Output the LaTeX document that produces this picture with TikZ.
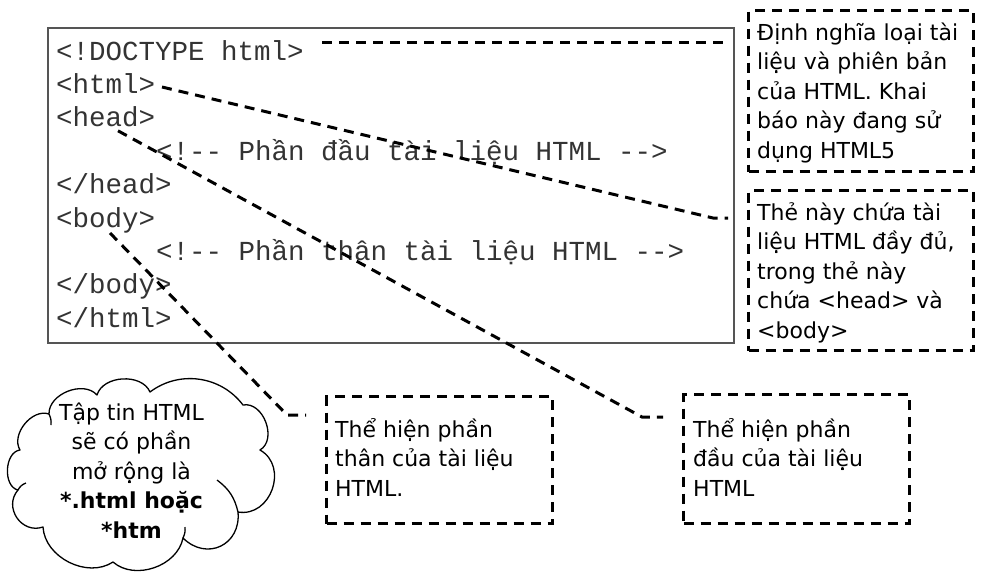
\documentclass[tikz,border=0pt]{standalone}
\usepackage{fontspec}
\setmainfont{DejaVu Sans}
\newfontfamily\codefont{Liberation Mono}[Ligatures=TeXOff]
\usetikzlibrary{calc}
\definecolor{codegray}{HTML}{333333}
\definecolor{framegray}{HTML}{555555}
\newcommand{\calltext}[1]{\begin{tabular}[t]{@{}l@{}}#1\end{tabular}}
\newcommand{\ctrtext}[1]{\begin{tabular}[t]{@{}c@{}}#1\end{tabular}}
\begin{document}
\begin{tikzpicture}[x=1pt,y=-1pt,
  codeline/.style={anchor=base west, inner sep=0pt, text=codegray, font=\codefont\fontsize{27.5}{33}\selectfont},
  codebox/.style={draw=framegray, line width=1.5pt, anchor=north west, inner sep=0pt},
  callbox/.style={draw=black, line width=3pt, dash pattern=on 10pt off 7pt, anchor=north west, inner sep=0pt},
  calltxt/.style={anchor=base west, inner sep=0pt, font=\fontsize{22}{29.5}\selectfont},
  conn/.style={draw=black, line width=3pt, dash pattern=on 10pt off 7pt},
  cloudline/.style={draw=black, line width=1.3pt, line join=round}
]
\useasboundingbox (0,0) rectangle (984,579);
\fill[white] (0,0) rectangle (984,579);

% code box
\node[codebox, minimum width=686pt, minimum height=315pt] (code) at (47,27) {};
\node[codeline] (l1) at (56,60) {<!DOCTYPE html>};
\node[codeline] (l2) at (56,93.4) {<html>};
\node[codeline] (l3) at (56,126.8) {<head>};
\node[codeline] (l4) at (156,160.2) {<!-- Phần đầu tài liệu HTML -->};
\node[codeline] (l5) at (56,193.6) {</head>};
\node[codeline] (l6) at (56,227) {<body>};
\node[codeline] (l7) at (156,260.4) {<!-- Phần thân tài liệu HTML -->};
\node[codeline] (l8) at (56,293.8) {</body>};
\node[codeline] (l9) at (56,327.2) {</html>};

% callout boxes
\node[callbox, minimum width=225pt, minimum height=161pt] (box1) at (747,9) {};
\node[calltxt] (t1) at (757,40) {\calltext{Định nghĩa loại tài\\ liệu và phiên bản\\ của HTML. Khai\\ báo này đang sử\\ dụng HTML5}};
\node[callbox, minimum width=225pt, minimum height=160pt] (box2) at (747,189) {};
\node[calltxt] (t2) at (757,220) {\calltext{Thẻ này chứa tài\\ liệu HTML đầy đủ,\\ trong thẻ này\\ chứa <head> và\\ <body>}};
\node[callbox, minimum width=226pt, minimum height=127pt] (bodybox) at (325,395) {};
\node[calltxt] (t3) at (335,437) {\calltext{Thể hiện phần\\ thân của tài liệu\\ HTML.}};
\node[callbox, minimum width=226pt, minimum height=129pt] (headbox) at (682,393) {};
\node[calltxt] (t4) at (693,437) {\calltext{Thể hiện phần\\ đầu của tài liệu\\ HTML}};

% cloud
\draw[cloudline] (49,414) to[bend left=70] (97,395) to[bend left=70] (150,392)
  to[bend left=45] (243,405) to[bend left=80, looseness=1.1] (260,450)
  to[bend left=80, looseness=1.3] (238,512) to[bend left=70, looseness=1.4] (183,538)
  to[bend left=60] (113,562) to[bend left=60] (43,527)
  to[bend left=75, looseness=1.3] (18,490) to[bend left=80] (20,450)
  to[bend left=70] (49,414);
\draw[cloudline] (49,414) to[bend left=15] (51,425);
\draw[cloudline] (217,480) to[bend left=20] (238,512);
\draw[cloudline] (18,490) to[bend left=20] (26,483);
\draw[cloudline] (183,538) to[bend right=15] (185,527);
\node[anchor=base, inner sep=0pt, font=\fontsize{22}{29.5}\selectfont] (cloudtxt) at (131.5,420) {\ctrtext{Tập tin HTML\\ sẽ có phần\\ mở rộng là\\ \textbf{*.html hoặc}\\ \textbf{*htm}}};

% connectors
\coordinate (bend2) at (713,218);
\coordinate (bend3) at (642,417);
\coordinate (bend4) at (287,415);
\draw[conn] ($(l1.base west)+(266,-18)$) -- ($(box1.west |- l1.base east)+(-19,-18)$);
\draw[conn, shorten >=19pt] ($(l2.base west)+(106,-6.4)$) -- (bend2) -- (bend2 -| box2.west);
\draw[conn, shorten >=19pt] ($(l3.base west)+(62,4)$) -- (bend3) -- (bend3 -| headbox.west);
\draw[conn, shorten >=19pt] ($(l6.base west)+(54,6)$) -- (bend4) -- (bend4 -| bodybox.west);
\end{tikzpicture}
\end{document}
